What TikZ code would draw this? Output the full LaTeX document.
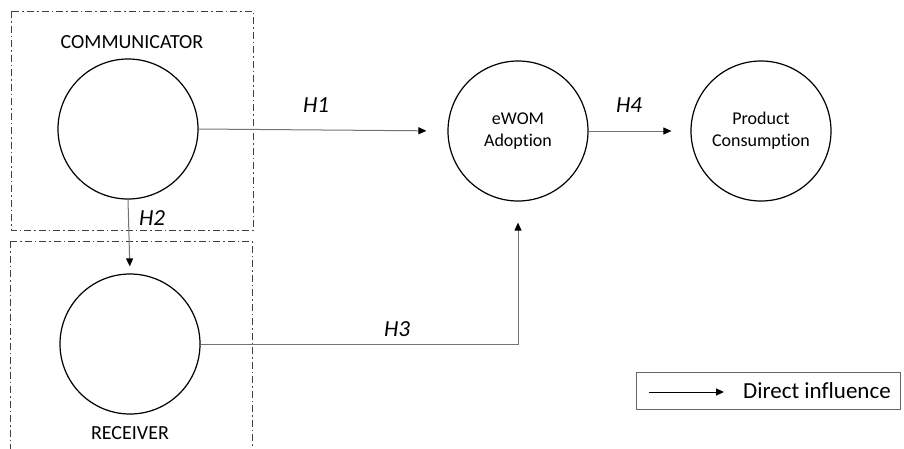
\documentclass[tikz,border=0pt]{standalone}
\usepackage{fontspec}
\setmainfont{Carlito}[Ligatures=NoCommon]
\usetikzlibrary{arrows.meta}

\begin{document}
\begin{tikzpicture}[x=1pt,y=-1pt,
    var/.style={draw,circle,line width=1.2pt,minimum size=140pt,inner sep=0pt,
      align=center,font=\fontsize{18}{22}\selectfont},
    grp/.style={draw=black!75,line width=1pt,dash pattern=on 7pt off 3pt on 1.5pt off 3pt},
    infl/.style={draw=black!55,line width=1pt,-{Triangle[length=8pt,width=7pt,color=black]}},
    hyp/.style={font=\fontsize{23}{27}\selectfont\itshape}]
      \useasboundingbox (0,0) rectangle (904,448) ;
      % dash-dot group frames
      \draw[grp] (11,11) rectangle (253,230) ;
      \draw[grp] (10,241) rectangle (252,452) ;
      \node[font=\fontsize{20}{24}\selectfont] (commtxt) at (132,42) {COMMUNICATOR} ;
      \node[font=\fontsize{20}{24}\selectfont] (recvtxt) at (130,433) {RECEIVER} ;
      % constructs
      \node[var] (comm) at (128,129) {} ;
      \node[var] (recv) at (130,344) {} ;
      \node[var] (ewom) at (518,131) {eWOM\\Adoption} ;
      \node[var] (prod) at (761,131) {Product\\Consumption} ;
      % hypothesised paths
      \draw[infl,shorten >=21pt] (comm.east) -- (ewom.west) ;
      \draw[infl,shorten >=7pt] (comm.south) -- (recv.north) ;
      \draw[infl,shorten >=21pt] (recv.east) -| (ewom.south) ;
      \draw[infl,shorten >=19pt] (ewom.east) -- (prod.west) ;
      \node[hyp] (h1) at (316,105) {H1} ;
      \node[hyp] (h2) at (152,218) {H2} ;
      \node[hyp] (h3) at (397,329) {H3} ;
      \node[hyp] (h4) at (629,105) {H4} ;
      % legend
      \draw[draw=black!60,line width=1pt] (636,372) rectangle (900,409) ;
      \coordinate (ls) at (649,392) ;
      \coordinate (le) at (724,392) ;
      \draw[line width=1pt,-{Triangle[length=8pt,width=7pt]}] (ls) -- (le) ;
      \node[anchor=west,inner sep=0pt,font=\fontsize{23}{27}\selectfont] (ltxt) at (743,391) {Direct influence} ;
\end{tikzpicture}
\end{document}
